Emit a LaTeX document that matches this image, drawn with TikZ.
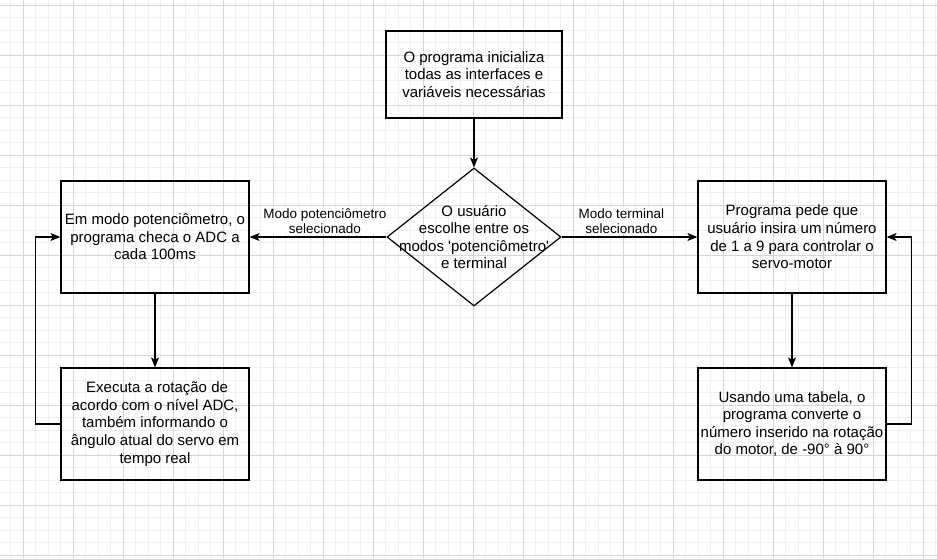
\documentclass[tikz,border=0pt]{standalone}
\usepackage{fontspec}
\setmainfont{Liberation Sans}
\usetikzlibrary{arrows.meta,shapes.geometric}

\begin{document}
\begin{tikzpicture}[x=1pt, y=-1pt, line width=1.2pt,
    box/.style={draw, rectangle, minimum width=188pt, minimum height=112pt,
        align=center, inner sep=0pt, font=\fontsize{15}{17.6}\selectfont},
    decision/.style={draw, diamond, minimum width=174pt, minimum height=138pt, inner sep=0pt},
    lbl/.style={fill=white, align=center, inner sep=1pt, font=\fontsize{13.5}{15}\selectfont},
    flow/.style={-{Stealth[length=10pt,width=8pt,inset=2.5pt]}},
    gridminor/.style={line width=0.6pt, black!6},
    gridmajor/.style={line width=0.6pt, black!16}]
    % background grid
    \useasboundingbox (0,0) rectangle (937,558);
    \fill[white] (0,0) rectangle (937,558);
    \foreach \i in {0,...,76}
        \draw[gridminor] ({-2+12.5*\i},0) -- ({-2+12.5*\i},558);
    \foreach \j in {0,...,44}
        \draw[gridminor] (0,{5+12.5*\j}) -- (937,{5+12.5*\j});
    \foreach \i in {0,...,18}
        \draw[gridmajor] ({23+50*\i},0) -- ({23+50*\i},558);
    \foreach \j in {0,...,11}
        \draw[gridmajor] (0,{5+50*\j}) -- (937,{5+50*\j});

    % blocks
    \node[box, minimum width=176pt, minimum height=87pt] (init) at (474,74.5)
        {O programa inicializa\\todas as interfaces e\\variáveis necessárias};
    \node[decision] (choice) at (474,237) {};
    \node[align=center, font=\fontsize{15}{17.6}\selectfont] (choicetxt) at (choice)
        {O usuário\\escolhe entre os\\modos \textquotesingle potenciômetro\textquotesingle\\e terminal};
    \node[box] (pot) at (155,237)
        {Em modo potenciômetro, o\\programa checa o ADC a\\cada 100ms};
    \node[box] (potrot) at (155,424)
        {\ Executa a rotação de\\acordo com o nível ADC,\\também informando o\\ângulo atual do servo em\\tempo real};
    \node[box] (term) at (792,237)
        {Programa pede que\\usuário insira um número\\de 1 a 9 para controlar o\\servo-motor};
    \node[box] (conv) at (792,424)
        {Usando uma tabela, o\\programa converte o\\número inserido na rotação\\do motor, de -90° à 90°};

    % connectors
    \draw[flow] (init) -- (choice);
    \draw[flow] (choice) -- node[lbl, anchor=south, pos=0.45, yshift=2pt]
        {Modo potenciômetro\\selecionado} (pot);
    \draw[flow] (choice) -- node[lbl, anchor=south, pos=0.44, yshift=2pt]
        {Modo terminal\\selecionado} (term);
    \draw[flow] (pot) -- (potrot);
    \draw[flow] (term) -- (conv);
    \draw[flow] (potrot.west) -- ++(-25,0) |- (pot.west);
    \draw[flow] (conv.east) -- ++(25,0) |- (term.east);
\end{tikzpicture}
\end{document}
